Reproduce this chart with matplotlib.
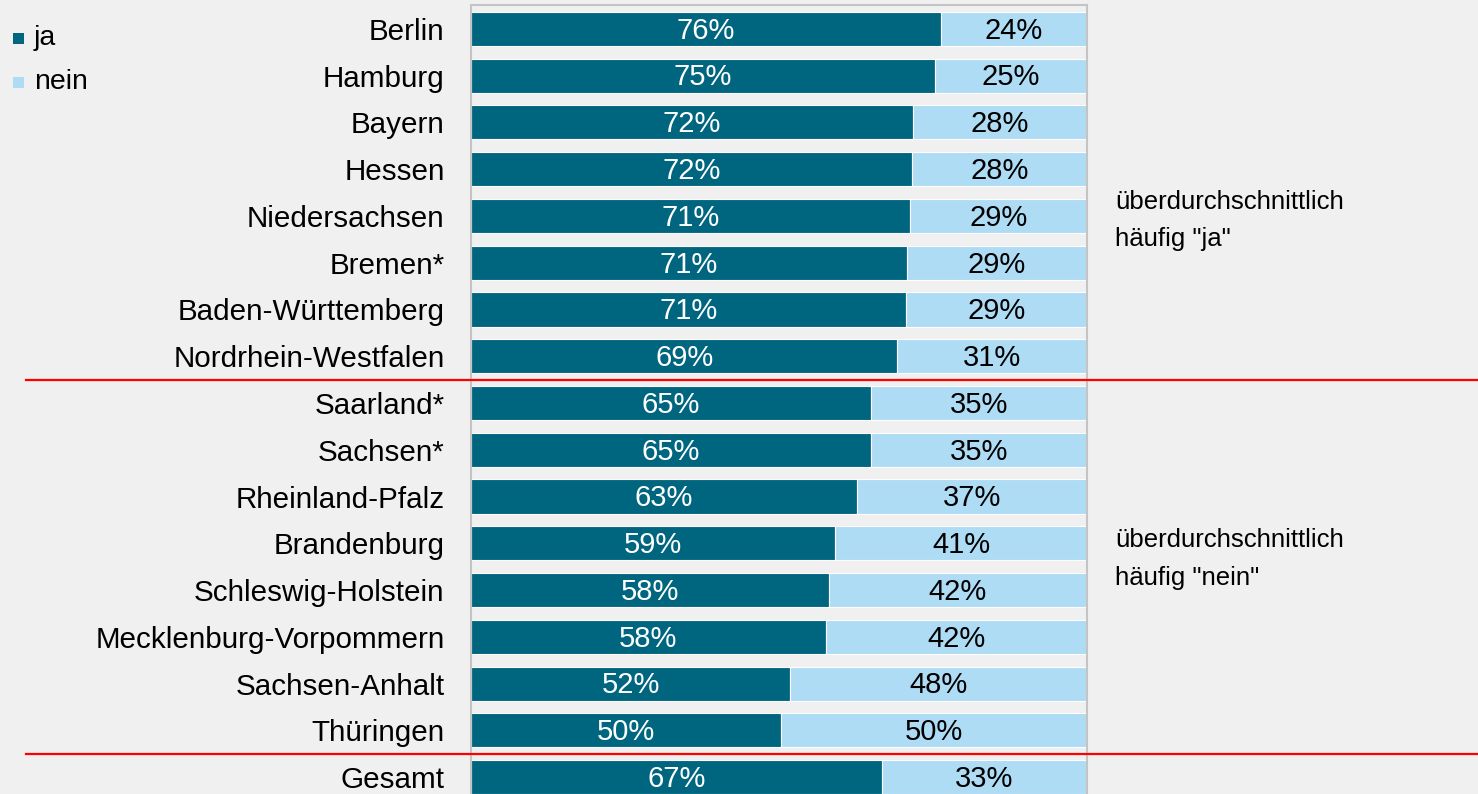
import matplotlib
matplotlib.use("Agg")
import matplotlib.pyplot as plt
from matplotlib.patches import Rectangle
import matplotlib.transforms as mtransforms

plt.rcParams['font.family'] = ['Liberation Sans', 'DejaVu Sans']

# Anteil "ja" / "nein" je Bundesland (in %)
laender = ["Berlin", "Hamburg", "Bayern", "Hessen", "Niedersachsen", "Bremen*",
           "Baden-Württemberg", "Nordrhein-Westfalen", "Saarland*", "Sachsen*",
           "Rheinland-Pfalz", "Brandenburg", "Schleswig-Holstein",
           "Mecklenburg-Vorpommern", "Sachsen-Anhalt", "Thüringen", "Gesamt"]
ja = [76.3, 75.3, 71.8, 71.6, 71.3, 70.8, 70.6, 69.2, 64.9, 64.9,
      62.7, 59.1, 58.1, 57.6, 51.8, 50.3, 66.7]
nein = [100 - v for v in ja]

# Trennlinien nach den Gruppen (Zeilenindex)
trenner = [7.5, 15.5]
gruppen_text = ['überdurchschnittlich\nhäufig "ja"', 'überdurchschnittlich\nhäufig "nein"']
gruppen_y = [4.1, 11.34]

c_ja = "#00667f"
c_nein = "#afdcf5"
bg = "#f0f0f0"

fig = plt.figure(figsize=(14.78, 7.94), dpi=100, facecolor=bg)
ax = fig.add_axes([471/1478, 0.0, 616/1478, 1 - 5/794])
ax.set_facecolor(bg)

y = list(range(len(laender)))
ax.barh(y, ja, height=0.73, color=c_ja, edgecolor="white", linewidth=0.8)
ax.barh(y, nein, left=ja, height=0.73, color=c_nein, edgecolor="white", linewidth=0.8)

for i in y:
    ax.text(ja[i] / 2, i + 0.04, f"{ja[i]:.0f}%", ha="center", va="center",
            color="white", fontsize=21)
    ax.text(ja[i] + nein[i] / 2, i + 0.04, f"{nein[i]:.0f}%", ha="center", va="center",
            color="black", fontsize=21)

ax.set_xlim(0, 100)
ax.set_ylim(len(laender) - 1 + 0.36, -0.51)
ax.set_yticks(y)
ax.set_yticklabels(laender, fontsize=21.3)
ax.tick_params(axis="y", length=0, pad=19)
ax.set_xticks([])
for s in ["left", "right", "top"]:
    ax.spines[s].set_color("#c4c4c4")
    ax.spines[s].set_linewidth(1.5)
ax.spines["bottom"].set_visible(False)

# rote Trennlinien über die ganze Breite
trans = mtransforms.blended_transform_factory(fig.transFigure, ax.transData)
for t in trenner:
    ax.plot([26/1478, 1.0], [t, t], color="#ff0000", linewidth=1.6,
            transform=trans, clip_on=False, zorder=5)

for txt, gy in zip(gruppen_text, gruppen_y):
    ax.text(1115/1478, gy, txt, transform=trans, ha="left", va="center",
            fontsize=18.5, linespacing=1.72)

# Legende
for k, (lab, col) in enumerate([("ja", c_ja), ("nein", c_nein)]):
    yc = 1 - (38 + 44 * k) / 794
    fig.patches.append(Rectangle((13/1478, yc - 5.5/794), 11/1478, 11/794,
                                 transform=fig.transFigure, facecolor=col,
                                 edgecolor="none"))
    fig.text(34/1478, yc, lab, ha="left", va="center", fontsize=20.5)

fig.savefig("out.png", dpi=100, facecolor=bg)
